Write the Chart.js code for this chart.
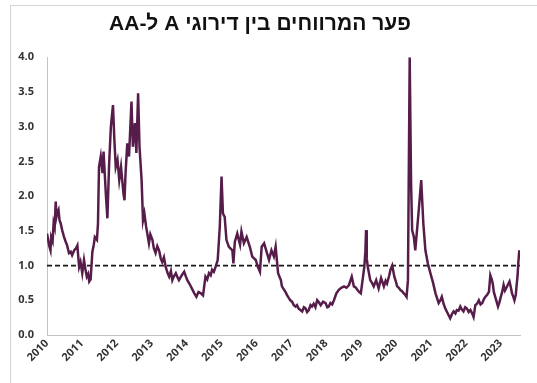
<!DOCTYPE html>
<html>
<head>
<meta charset="utf-8">
<script src="https://cdn.jsdelivr.net/npm/chart.js@4"></script>
<style>
  html, body { margin: 0; padding: 0; background: #fff; }
  #wrap { position: relative; width: 537px; height: 383px; overflow: hidden; }
  #frame { position: absolute; left: 10px; top: 5px; width: 600px; height: 400px;
           border-left: 1px solid #d4d4d4; border-top: 1px solid #d4d4d4; }
  canvas { position: absolute; left: 0; top: 0; }
</style>
</head>
<body>
<div id="wrap">
  <div id="frame"></div>
  <canvas id="chart" width="537" height="383"></canvas>
</div>
<script>
// Observation dates as decimal years
const dates = [
  2010.00, 2010.03, 2010.06, 2010.10, 2010.12, 2010.16, 2010.19, 2010.22, 2010.25, 2010.27,
  2010.29, 2010.33, 2010.36, 2010.39, 2010.44, 2010.49, 2010.53, 2010.57, 2010.63, 2010.68,
  2010.72, 2010.78, 2010.83, 2010.87, 2010.90, 2010.92, 2010.96, 2011.01, 2011.06, 2011.10,
  2011.14, 2011.18, 2011.21, 2011.25, 2011.30, 2011.34, 2011.37, 2011.43, 2011.46, 2011.49,
  2011.54, 2011.59, 2011.62, 2011.69, 2011.73, 2011.78, 2011.83, 2011.89, 2011.93, 2011.97,
  2012.02, 2012.07, 2012.12, 2012.19, 2012.22, 2012.25, 2012.30, 2012.35, 2012.42, 2012.46,
  2012.52, 2012.56, 2012.61, 2012.65, 2012.71, 2012.75, 2012.79, 2012.84, 2012.92, 2012.96,
  2013.02, 2013.06, 2013.11, 2013.16, 2013.21, 2013.26, 2013.30, 2013.35, 2013.40, 2013.45,
  2013.50, 2013.55, 2013.59, 2013.64, 2013.69, 2013.74, 2013.78, 2013.86, 2013.93, 2013.98,
  2014.02, 2014.10, 2014.17, 2014.22, 2014.28, 2014.34, 2014.41, 2014.47, 2014.54, 2014.59,
  2014.64, 2014.69, 2014.73, 2014.78, 2014.83, 2014.89, 2014.95, 2015.00, 2015.04, 2015.09,
  2015.14, 2015.21, 2015.31, 2015.34, 2015.38, 2015.45, 2015.53, 2015.57, 2015.64, 2015.72,
  2015.81, 2015.88, 2015.98, 2016.04, 2016.10, 2016.15, 2016.22, 2016.29, 2016.36, 2016.43,
  2016.50, 2016.55, 2016.62, 2016.66, 2016.70, 2016.73, 2016.78, 2016.83, 2016.88, 2016.93,
  2016.97, 2017.02, 2017.07, 2017.12, 2017.16, 2017.21, 2017.26, 2017.31, 2017.36, 2017.41,
  2017.45, 2017.50, 2017.55, 2017.59, 2017.64, 2017.69, 2017.74, 2017.79, 2017.84, 2017.91,
  2017.98, 2018.03, 2018.07, 2018.12, 2018.17, 2018.22, 2018.29, 2018.36, 2018.43, 2018.51,
  2018.58, 2018.65, 2018.73, 2018.79, 2018.85, 2018.89, 2018.94, 2018.99, 2019.04, 2019.09,
  2019.12, 2019.14, 2019.16, 2019.19, 2019.26, 2019.31, 2019.36, 2019.43, 2019.47, 2019.50,
  2019.57, 2019.61, 2019.65, 2019.70, 2019.74, 2019.80, 2019.84, 2019.89, 2019.95, 2020.00,
  2020.03, 2020.08, 2020.12, 2020.17, 2020.22, 2020.26, 2020.30, 2020.34, 2020.39, 2020.43,
  2020.46, 2020.51, 2020.55, 2020.60, 2020.65, 2020.72, 2020.78, 2020.84, 2020.91, 2021.01,
  2021.06, 2021.13, 2021.18, 2021.22, 2021.27, 2021.31, 2021.36, 2021.41, 2021.47, 2021.51,
  2021.55, 2021.60, 2021.65, 2021.70, 2021.74, 2021.79, 2021.84, 2021.88, 2021.93, 2021.98,
  2022.03, 2022.08, 2022.13, 2022.18, 2022.22, 2022.27, 2022.32, 2022.37, 2022.42, 2022.47,
  2022.52, 2022.56, 2022.61, 2022.66, 2022.70, 2022.74, 2022.77, 2022.80, 2022.84, 2022.88,
  2022.92, 2022.96, 2022.99, 2023.04, 2023.08, 2023.12, 2023.15, 2023.20, 2023.25, 2023.29,
  2023.32, 2023.36, 2023.39, 2023.43, 2023.45, 2023.48, 2023.50, 2023.53
];

// Spread between A and AA ratings (percentage points)
const spread = [
  1.46, 1.38, 1.29, 1.22, 1.41, 1.35, 1.61, 1.55, 1.92, 1.70,
  1.75, 1.80, 1.65, 1.61, 1.50, 1.41, 1.35, 1.30, 1.18, 1.20,
  1.15, 1.22, 1.25, 1.29, 1.10, 0.98, 1.05, 0.89, 1.08, 0.95,
  0.84, 0.88, 0.77, 0.80, 1.20, 1.30, 1.41, 1.37, 1.60, 2.42,
  2.57, 2.33, 2.64, 1.99, 1.68, 2.47, 3.00, 3.31, 2.81, 2.42,
  2.52, 2.23, 2.42, 2.04, 1.94, 2.33, 2.76, 2.57, 3.36, 2.71,
  3.05, 2.62, 3.48, 2.71, 2.23, 1.65, 1.75, 1.56, 1.32, 1.45,
  1.37, 1.25, 1.18, 1.28, 1.22, 1.10, 1.05, 1.12, 0.98, 0.90,
  0.84, 0.92, 0.79, 0.85, 0.89, 0.83, 0.79, 0.86, 0.91, 0.84,
  0.79, 0.72, 0.65, 0.60, 0.55, 0.62, 0.60, 0.57, 0.84, 0.80,
  0.89, 0.86, 0.94, 0.91, 0.98, 1.08, 1.56, 2.28, 1.75, 1.70,
  1.37, 1.27, 1.22, 1.03, 1.34, 1.46, 1.30, 1.49, 1.32, 1.41,
  1.27, 1.13, 1.08, 0.98, 0.91, 1.27, 1.32, 1.20, 1.08, 1.22,
  1.13, 1.27, 0.89, 0.84, 0.79, 0.70, 0.66, 0.62, 0.57, 0.53,
  0.50, 0.48, 0.43, 0.41, 0.43, 0.38, 0.36, 0.34, 0.40, 0.38,
  0.33, 0.36, 0.43, 0.41, 0.45, 0.40, 0.50, 0.47, 0.43, 0.48,
  0.46, 0.40, 0.41, 0.46, 0.44, 0.50, 0.60, 0.65, 0.68, 0.70,
  0.68, 0.72, 0.84, 0.70, 0.68, 0.65, 0.62, 0.60, 0.79, 0.98,
  1.20, 1.51, 1.10, 0.98, 0.79, 0.75, 0.70, 0.79, 0.72, 0.67,
  0.82, 0.76, 0.70, 0.78, 0.74, 0.85, 0.94, 1.00, 0.84, 0.76,
  0.70, 0.68, 0.65, 0.63, 0.60, 0.58, 0.55, 0.79, 4.00, 2.18,
  1.51, 1.41, 1.22, 1.51, 1.80, 2.23, 1.61, 1.22, 1.03, 0.84,
  0.75, 0.60, 0.52, 0.46, 0.50, 0.55, 0.45, 0.38, 0.32, 0.28,
  0.24, 0.30, 0.34, 0.31, 0.36, 0.35, 0.41, 0.37, 0.34, 0.40,
  0.38, 0.33, 0.36, 0.31, 0.26, 0.43, 0.45, 0.50, 0.44, 0.46,
  0.52, 0.55, 0.58, 0.62, 0.86, 0.80, 0.74, 0.62, 0.55, 0.48,
  0.41, 0.47, 0.53, 0.62, 0.72, 0.64, 0.67, 0.72, 0.77, 0.68,
  0.60, 0.55, 0.50, 0.58, 0.70, 0.85, 1.03, 1.22
];

// Year labels on the horizontal axis
const yearTicks = [2010, 2011, 2012, 2013, 2014, 2015, 2016, 2017, 2018, 2019, 2020, 2021, 2022, 2023];
// Reference level drawn as a dashed line
const referenceLevel = [1.0, 1.0];
const referenceSpan = [2010, 2023.55];

// Hebrew title wrapped in a right-to-left embedding so it reads correctly on the canvas
const titleText = '\u202Bפער המרווחים בין דירוגי A ל-AA\u202C';
const axisColor = '#c4c4c4';
const tickFont = { family: "'Open Sans', 'Liberation Sans', sans-serif", size: 11, weight: 'bold' };

new Chart(document.getElementById('chart'), {
  type: 'line',
  data: {
    datasets: [
      {
        data: dates.map((d, i) => ({ x: d, y: spread[i] })),
        borderColor: '#561d4a',
        borderWidth: 2.5,
        pointRadius: 0,
        tension: 0,
        fill: false
      },
      {
        data: referenceSpan.map((d, i) => ({ x: d, y: referenceLevel[i] })),
        borderColor: '#1a1a1a',
        borderWidth: 1.8,
        borderDash: [5, 3],
        pointRadius: 0,
        fill: false
      }
    ]
  },
  options: {
    responsive: false,
    animation: false,
    devicePixelRatio: 1,
    layout: { padding: { left: 0, right: 17, top: 0, bottom: 0 } },
    plugins: {
      legend: { display: false },
      tooltip: { enabled: false },
      title: {
        display: true,
        text: titleText,
        color: '#111',
        font: { family: "'Liberation Sans', Arial, sans-serif", size: 21, weight: 'bold' },
        padding: { top: 12, bottom: 20 }
      }
    },
    scales: {
      x: {
        type: 'linear',
        min: 2010,
        max: 2023.55,
        afterBuildTicks: (scale) => { scale.ticks = yearTicks.map(v => ({ value: v })); },
        afterFit: (scale) => { scale.height = 48; },
        grid: { display: false, drawTicks: false },
        border: { display: true, color: axisColor, width: 1 },
        ticks: {
          autoSkip: false,
          minRotation: 45,
          maxRotation: 45,
          padding: 2,
          color: '#333',
          font: tickFont,
          callback: (v) => String(v)
        }
      },
      y: {
        min: 0,
        max: 4,
        afterFit: (scale) => { scale.width = 47; },
        grid: { display: false, drawTicks: false },
        border: { display: true, color: axisColor, width: 1 },
        ticks: {
          stepSize: 0.5,
          padding: 13,
          color: '#333',
          font: tickFont,
          callback: (v) => Number(v).toFixed(1)
        }
      }
    }
  }
});
</script>
</body>
</html>
